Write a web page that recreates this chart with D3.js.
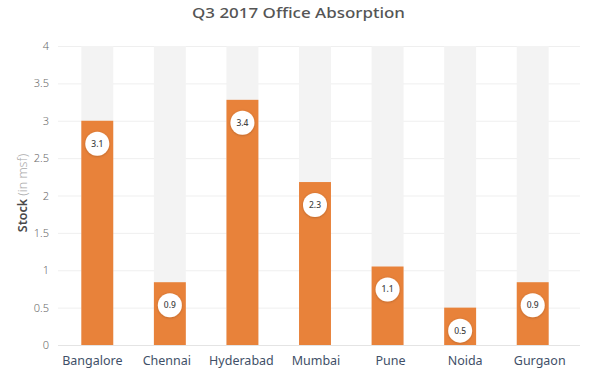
<!DOCTYPE html>
<html><head><meta charset="utf-8">
<script src="https://cdn.jsdelivr.net/npm/d3@7"></script>
<style>body{margin:0;background:#fff}svg{display:block;font-family:"Noto Sans","Open Sans",sans-serif}</style>
</head><body><svg id="c" width="600" height="373"></svg>
<script>
const categories = ["Bangalore","Chennai","Hyderabad","Mumbai","Pune","Noida","Gurgaon"];
const values = [3.0, 0.84, 3.28, 2.18, 1.05, 0.5, 0.84];
const labels = ["3.1","0.9","3.4","2.3","1.1","0.5","0.9"];
const yTicks = [0,0.5,1,1.5,2,2.5,3,3.5,4];
const yMax = 4;

const svg = d3.select("#c");
const x = d3.scaleBand().domain(categories).range([61,569]).paddingInner(0.56).paddingOuter(0.28);
const xl = d3.scaleBand().domain(categories).range([55,577]);
const y = d3.scaleLinear().domain([0,yMax]).range([345,46]);

svg.append("text").attr("x",298.5).attr("y",17.5).attr("text-anchor","middle")
  .attr("font-size",15).attr("font-weight",500).attr("fill","#555")
  .attr("textLength",213).attr("lengthAdjust","spacingAndGlyphs").text("Q3 2017 Office Absorption");

const grid = svg.append("g");
grid.selectAll("line").data(yTicks).join("line")
  .attr("x1",58).attr("x2",580).attr("y1",d=>y(d)+0.5).attr("y2",d=>y(d)+0.5)
  .attr("stroke",d=>d===0?"#e4e4e4":"#efefef").attr("stroke-width",1);

const yAxis = d3.axisLeft(y).tickValues(yTicks).tickSize(0).tickPadding(0).tickFormat(d3.format("~g"));
const ya = svg.append("g").attr("transform","translate(49,0)").call(yAxis);
ya.select(".domain").remove();
ya.selectAll("text").attr("font-size",11).attr("fill","#6a6a6a").attr("font-family","'Noto Sans',sans-serif").attr("font-weight",300);

svg.append("text").attr("transform","translate(27,193) rotate(-90)").attr("text-anchor","middle")
  .attr("font-size",12.5).call(t=>{
    t.append("tspan").attr("font-weight",600).attr("fill","#4a4a4a").text("Stock ");
    t.append("tspan").attr("fill","#aaa").attr("font-weight",300).text("(in msf)");
  });

svg.append("g").selectAll("rect").data(categories).join("rect")
  .attr("x",d=>x(d)).attr("width",x.bandwidth()).attr("y",y(yMax)).attr("height",y(0)-y(yMax)).attr("fill","#f3f3f3");

svg.append("g").selectAll("rect").data(values).join("rect")
  .attr("x",(d,i)=>x(categories[i])).attr("width",x.bandwidth())
  .attr("y",d=>y(d)).attr("height",d=>y(0)-y(d)).attr("fill","#e8823a");

const defs = svg.append("defs");
const f = defs.append("filter").attr("id","sh").attr("x","-50%").attr("y","-50%").attr("width","200%").attr("height","200%");
f.append("feDropShadow").attr("dx",0).attr("dy",0.5).attr("stdDeviation",1).attr("flood-color","#000").attr("flood-opacity",0.25);

const lg = svg.append("g").selectAll("g").data(values).join("g")
  .attr("transform",(d,i)=>`translate(${x(categories[i])+x.bandwidth()/2},${y(d)+23})`);
lg.append("circle").attr("r",12).attr("fill","#fff").attr("filter","url(#sh)");
lg.append("text").attr("text-anchor","middle").attr("dy","0.35em").attr("font-size",8.5).attr("font-weight",500).attr("fill","#444")
  .text((d,i)=>labels[i]);

const xAxis = d3.axisBottom(xl).tickSize(0).tickPadding(0);
const xa = svg.append("g").attr("transform","translate(0,356)").call(xAxis);
xa.select(".domain").remove();
xa.selectAll("text").attr("font-size",12.5).attr("fill","#3f5068").attr("font-family","'Noto Sans',sans-serif");
</script></body></html>
